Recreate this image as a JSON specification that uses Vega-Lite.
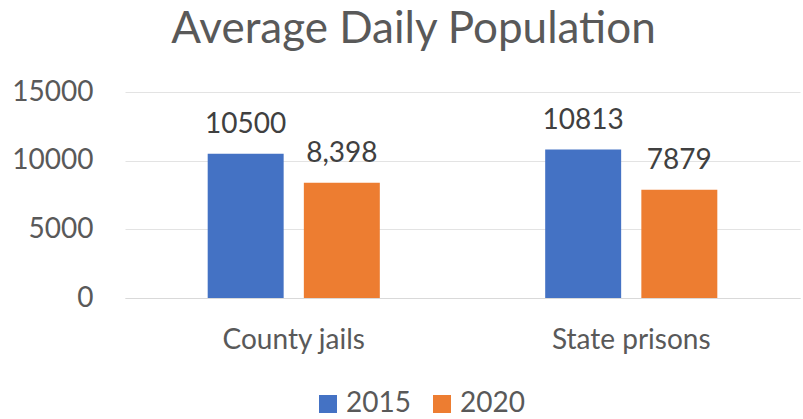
{
  "$schema": "https://vega.github.io/schema/vega-lite/v6.json",
  "autosize": "none",
  "width": 675,
  "height": 206,
  "padding": {"left": 125, "top": 92, "right": 3, "bottom": 121},
  "background": "white",
  "title": {
    "text": "Average Daily Population",
    "font": "Lato",
    "fontSize": 44,
    "fontWeight": "normal",
    "color": "#595959",
    "anchor": "middle",
    "dx": -49,
    "offset": 26
  },
  "data": {
    "values": [
      {"category": "County jails", "year": "2015", "value": 10500, "label": "10500"},
      {"category": "County jails", "year": "2020", "value": 8398, "label": "8,398"},
      {"category": "State prisons", "year": "2015", "value": 10813, "label": "10813"},
      {"category": "State prisons", "year": "2020", "value": 7879, "label": "7879"}
    ]
  },
  "encoding": {
    "x": {
      "field": "category",
      "type": "nominal",
      "scale": {"paddingInner": 0.49, "paddingOuter": 0.245},
      "axis": {
        "title": null,
        "labelAngle": 0,
        "labelFont": "Lato",
        "labelFontSize": 28,
        "labelColor": "#595959",
        "labelPadding": 28,
        "ticks": false,
        "domainColor": "#d9d9d9",
        "domainWidth": 1
      }
    },
    "xOffset": {"field": "year", "type": "nominal", "scale": {"paddingInner": 0.21, "paddingOuter": 0}},
    "y": {
      "field": "value",
      "type": "quantitative",
      "scale": {"domain": [0, 15000], "nice": false},
      "axis": {
        "title": null,
        "values": [0, 5000, 10000, 15000],
        "format": "d",
        "grid": true,
        "gridColor": "#e3e3e3",
        "gridWidth": 1,
        "domain": false,
        "ticks": false,
        "labelFont": "Lato",
        "labelFontSize": 28,
        "labelColor": "#595959",
        "labelPadding": 32
      }
    },
    "color": {
      "field": "year",
      "type": "nominal",
      "scale": {"domain": ["2015", "2020"], "range": ["#4472C4", "#ED7D31"]},
      "legend": {
        "orient": "none",
        "legendX": 189,
        "legendY": 298,
        "direction": "horizontal",
        "title": null,
        "symbolType": "square",
        "symbolSize": 324,
        "symbolStrokeWidth": 0,
        "symbolOpacity": 1,
        "labelFont": "Lato",
        "labelFontSize": 28,
        "labelColor": "#595959",
        "columnPadding": 17,
        "labelOffset": 4
      }
    }
  },
  "layer": [
    {"mark": {"type": "bar"}},
    {
      "mark": {"type": "text", "baseline": "alphabetic", "dy": -21, "font": "Lato", "fontSize": 28, "color": "#404040"},
      "encoding": {"text": {"field": "label"}, "color": {"value": "#404040"}}
    }
  ],
  "config": {"view": {"stroke": null}}
}
